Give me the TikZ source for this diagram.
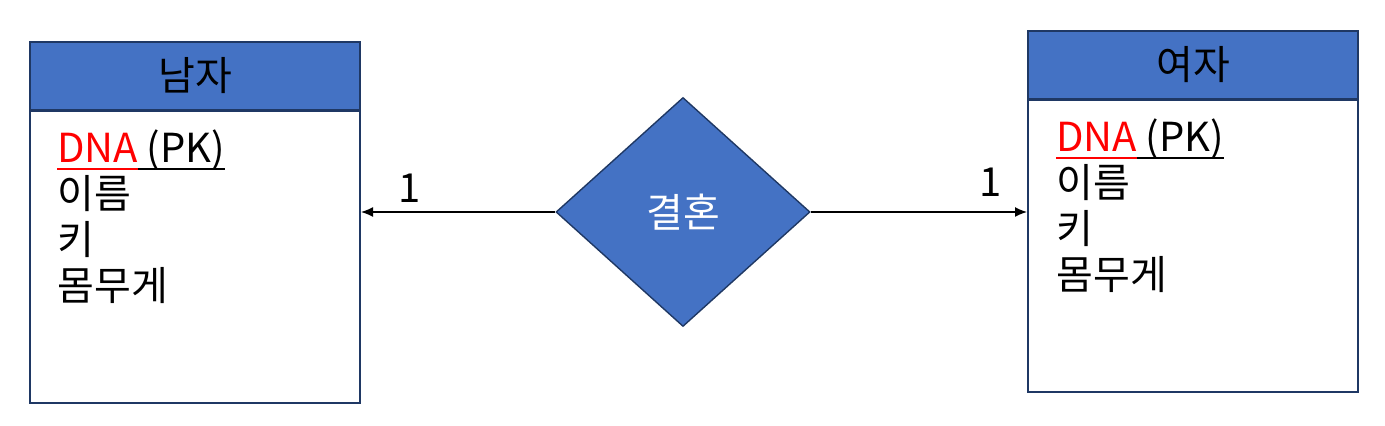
\documentclass[tikz,border=0pt]{standalone}
\usepackage{fontspec}
\setmainfont{Noto Sans CJK KR}
\usepackage{xcolor}
\usetikzlibrary{arrows.meta,positioning,shapes.geometric,calc}
\definecolor{erblue}{RGB}{68,114,196}
\definecolor{erline}{RGB}{31,56,100}
\newcommand{\erul}[1]{\setbox0\hbox{#1}\rlap{\raisebox{-3.4pt}{\rule{\wd0}{0.9pt}}}\box0}

\begin{document}
\begin{tikzpicture}[x=0.5pt,y=-0.5pt,>={Latex[length=6pt,width=5pt]},
  head/.style={draw=erline,line width=1pt,fill=erblue,minimum width=165pt,minimum height=34pt,inner sep=0pt,font=\fontsize{20}{23}\selectfont},
  body/.style={draw=erline,line width=1pt,fill=white,minimum width=165pt,minimum height=146pt,inner sep=0pt},
  attr/.style={anchor=base west,inner sep=0pt,font=\fontsize{20}{23}\selectfont},
  rel/.style={diamond,draw=erline,line width=0.7pt,fill=erblue,text=white,minimum width=127pt,minimum height=114.5pt,inner sep=0pt,font=\fontsize{20}{23}\selectfont}]
  \useasboundingbox (0,0) rectangle (1385,426);
  % entities
  \node[head] (man) at (195,76) {남자};
  \node[body,below=-0.5pt of man] (manbody) {};
  \node[head] (woman) at (1193,65) {여자};
  \node[body,below=-0.5pt of woman] (womanbody) {};
  % attributes
  \node[attr] (mandna) at ($(manbody.north west)+(28,53)$) {{\color{red}\erul{DNA}}\erul{\hspace{0.22em}(PK)}};
  \foreach \t [count=\i] in {이름,키,몸무게} \node[attr] (man\i) at ([yshift=-\i*23pt]mandna.base west) {\t};
  \node[attr] (womandna) at ($(womanbody.north west)+(29,53)$) {{\color{red}\erul{DNA}}\erul{\hspace{0.22em}(PK)}};
  \foreach \t [count=\i] in {이름,키,몸무게} \node[attr] (woman\i) at ([yshift=-\i*23pt]womandna.base west) {\t};
  % relation
  \node[rel] (marry) at (683,212) {결혼};
  \draw[->,line width=0.7pt] (marry.west) -- (marry.west -| manbody.east);
  \draw[->,line width=0.7pt] (marry.east) -- (marry.east -| womanbody.west);
  \node[attr,anchor=center] (mancard) at (410,188) {1};
  \node[attr,anchor=center] (womancard) at (991,182) {1};
\end{tikzpicture}
\end{document}
